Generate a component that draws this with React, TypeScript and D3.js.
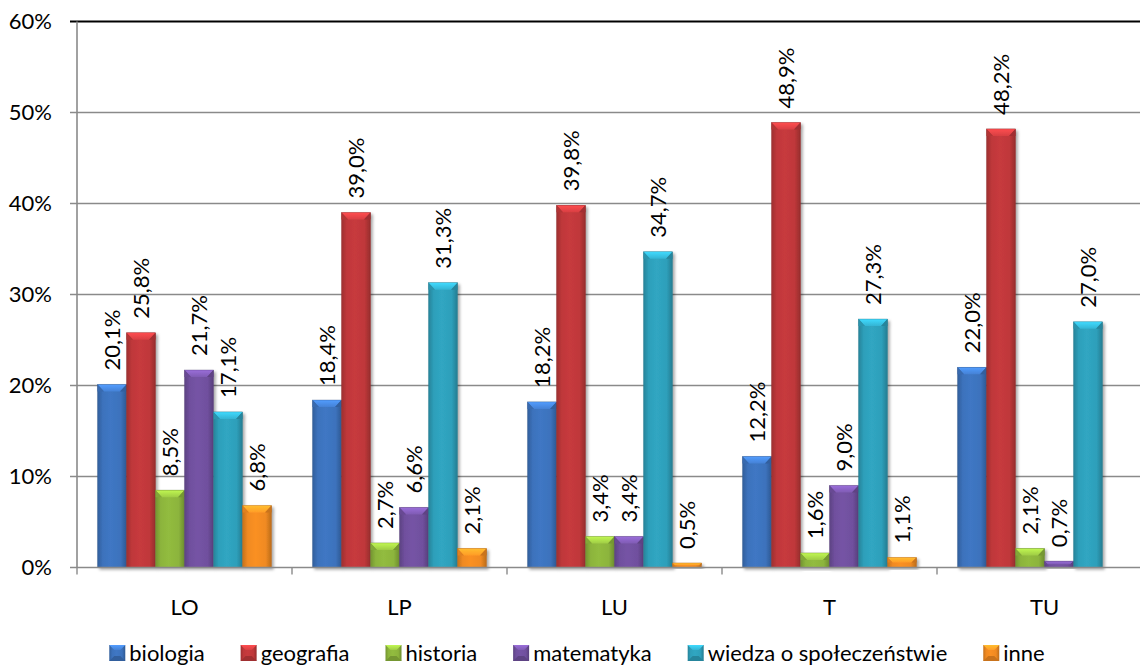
import React, { useEffect, useRef } from "react";
import * as d3 from "d3";

const categories = ["LO", "LP", "LU", "T", "TU"];
const seriesNames = ["biologia", "geografia", "historia", "matematyka", "wiedza o społeczeństwie", "inne"];
const biologia = [20.1, 18.4, 18.2, 12.2, 22.0];
const geografia = [25.8, 39.0, 39.8, 48.9, 48.2];
const historia = [8.5, 2.7, 3.4, 1.6, 2.1];
const matematyka = [21.7, 6.6, 3.4, 9.0, 0.7];
const wiedza = [17.1, 31.3, 34.7, 27.3, 27.0];
const inne: (number | null)[] = [6.8, 2.1, 0.5, 1.1, null];
const seriesValues: (number | null)[][] = [biologia, geografia, historia, matematyka, wiedza, inne];
const colors = ["#3c72bc", "#bf383a", "#8cb43c", "#70509e", "#2e9fba", "#f08a22"];
const yTicks = [0, 10, 20, 30, 40, 50, 60];

const W = 1140;
const H = 668;
const FONT = "Lato, 'Open Sans', sans-serif";
const FS = 22;

export default function App() {
  const ref = useRef<SVGSVGElement>(null);

  useEffect(() => {
    document.body.style.margin = "0";
    const svg = d3.select(ref.current!);
    svg.selectAll("*").remove();

    const left = 77;
    const catW = 215;
    const x0 = d3.scaleBand<string>().domain(categories).range([left, left + catW * categories.length]).padding(0);
    const x1 = d3.scaleBand<string>().domain(seriesNames).range([20.5, catW - 20.5]).padding(0);
    const y = d3.scaleLinear().domain([0, 60]).range([567.5, 21.5]);

    const defs = svg.append("defs");
    const f = defs.append("filter").attr("id", "sh").attr("x", "-30%").attr("y", "-10%").attr("width", "170%").attr("height", "130%");
    f.append("feDropShadow").attr("dx", 2).attr("dy", 2).attr("stdDeviation", 1.6).attr("flood-color", "#000").attr("flood-opacity", 0.35);

    colors.forEach((c, i) => {
      const base = d3.color(c)!;
      const g = defs.append("linearGradient").attr("id", `g${i}`).attr("x1", 0).attr("x2", 1).attr("y1", 0).attr("y2", 0);
      const stops: [number, string][] = [
        [0, base.darker(0.55).formatHex()],
        [0.18, base.formatHex()],
        [0.45, base.brighter(0.12).formatHex()],
        [0.8, base.formatHex()],
        [1, base.darker(0.7).formatHex()],
      ];
      stops.forEach(([o, col]) => g.append("stop").attr("offset", o).attr("stop-color", col));
      const gt = defs.append("linearGradient").attr("id", `t${i}`).attr("x1", 0).attr("x2", 0).attr("y1", 0).attr("y2", 1);
      gt.append("stop").attr("offset", 0).attr("stop-color", base.brighter(0.9).formatHex());
      gt.append("stop").attr("offset", 1).attr("stop-color", base.brighter(0.35).formatHex());
    });

    // gridlines
    const grid = svg.append("g");
    yTicks.forEach((t) => {
      if (t === 0) return;
      grid
        .append("line")
        .attr("x1", left - 7)
        .attr("x2", W)
        .attr("y1", y(t))
        .attr("y2", y(t))
        .attr("stroke", t === 60 ? "#000" : "#8a8a8a")
        .attr("stroke-width", t === 60 ? 1.8 : 1.4);
    });

    // y axis
    svg.append("line").attr("x1", left).attr("x2", left).attr("y1", y(60)).attr("y2", y(0)).attr("stroke", "#8a8a8a").attr("stroke-width", 1.6);
    svg
      .append("g")
      .selectAll("text")
      .data(yTicks)
      .join("text")
      .attr("x", 52)
      .attr("y", (d) => y(d))
      .attr("dy", "0.36em")
      .attr("text-anchor", "end")
      .attr("font-family", FONT)
      .attr("font-size", FS)
      .attr("fill", "#000")
      .text((d) => `${d}%`);

    // bars
    const bevel = (val: number, ytop: number) => Math.min(7, (y(0) - ytop) / 2);
    const barsG = svg.append("g");
    categories.forEach((cat, ci) => {
      seriesNames.forEach((s, si) => {
        const v = seriesValues[si][ci];
        if (v == null) return;
        const bx = x0(cat)! + x1(s)!;
        const bw = x1.bandwidth();
        const top = y(v);
        const h = y(0) - top;
        const gg = barsG.append("g").attr("filter", "url(#sh)");
        gg.append("rect").attr("x", bx).attr("y", top).attr("width", bw).attr("height", h).attr("fill", `url(#g${si})`);
        const b = bevel(v, top);
        const inset = Math.min(6.5, b);
        gg.append("polygon")
          .attr("points", `${bx},${top} ${bx + bw},${top} ${bx + bw - inset},${top + b} ${bx + inset},${top + b}`)
          .attr("fill", `url(#t${si})`);
        // left/right bevel shading near top
        const base = d3.color(colors[si])!;
        gg.append("polygon")
          .attr("points", `${bx},${top} ${bx + inset},${top + b} ${bx},${top + b}`)
          .attr("fill", base.darker(0.2).formatHex());
        gg.append("polygon")
          .attr("points", `${bx + bw},${top} ${bx + bw - inset},${top + b} ${bx + bw},${top + b}`)
          .attr("fill", base.darker(0.5).formatHex());
        gg.append("rect").attr("x", bx).attr("y", top).attr("width", bw).attr("height", h).attr("fill", "none").attr("stroke", base.darker(0.8).formatHex()).attr("stroke-width", 0.6).attr("stroke-opacity", 0.6);

        // label
        const lx = bx + bw / 2;
        const ly = top - 14;
        barsG
          .append("text")
          .attr("transform", `translate(${lx},${ly}) rotate(-90)`)
          .attr("dy", "0.36em")
          .attr("text-anchor", "start")
          .attr("font-family", FONT)
          .attr("font-size", FS)
          .attr("fill", "#000")
          .text(d3.format(".1f")(v).replace(".", ",") + "%");
      });
    });

    // x axis
    svg.append("line").attr("x1", left - 7).attr("x2", W).attr("y1", y(0)).attr("y2", y(0)).attr("stroke", "#8a8a8a").attr("stroke-width", 1.6);
    for (let i = 0; i <= categories.length; i++) {
      const xx = left + i * catW;
      svg.append("line").attr("x1", xx).attr("x2", xx).attr("y1", y(0)).attr("y2", y(0) + 7).attr("stroke", "#8a8a8a").attr("stroke-width", 1.4);
    }
    svg
      .append("g")
      .selectAll("text")
      .data(categories)
      .join("text")
      .attr("x", (d) => x0(d)! + x0.bandwidth() / 2)
      .attr("y", 615)
      .attr("text-anchor", "middle")
      .attr("font-family", FONT)
      .attr("font-size", FS)
      .attr("fill", "#000")
      .text((d) => d);

    // legend
    const leg = svg.append("g");
    const items: { g: any; w: number }[] = [];
    const markerW = 16;
    seriesNames.forEach((s, si) => {
      const g = leg.append("g");
      const base = d3.color(colors[si])!;
      g.append("rect").attr("x", 0).attr("y", -8).attr("width", markerW).attr("height", markerW).attr("fill", `url(#g${si})`);
      g.append("polygon").attr("points", `0,-8 ${markerW},-8 ${markerW - 5},-3 5,-3`).attr("fill", `url(#t${si})`);
      g.append("polygon").attr("points", `0,8 ${markerW},8 ${markerW - 5},3 5,3`).attr("fill", base.darker(0.5).formatHex());
      const t = g
        .append("text")
        .attr("x", markerW + 4)
        .attr("y", 0)
        .attr("dy", "0.36em")
        .attr("font-family", FONT)
        .attr("font-size", FS)
        .attr("fill", "#000")
        .text(s);
      const tw = (t.node() as SVGTextElement).getComputedTextLength();
      items.push({ g, w: markerW + 4 + tw });
    });
    const gap = 36;
    const total = d3.sum(items, (d) => d.w) + gap * (items.length - 1);
    let cx = 577 - total / 2;
    items.forEach((it) => {
      it.g.attr("transform", `translate(${cx},653)`);
      cx += it.w + gap;
    });
  }, []);

  return <svg ref={ref} width={W} height={H} style={{ display: "block", background: "#fff" }} />;
}
